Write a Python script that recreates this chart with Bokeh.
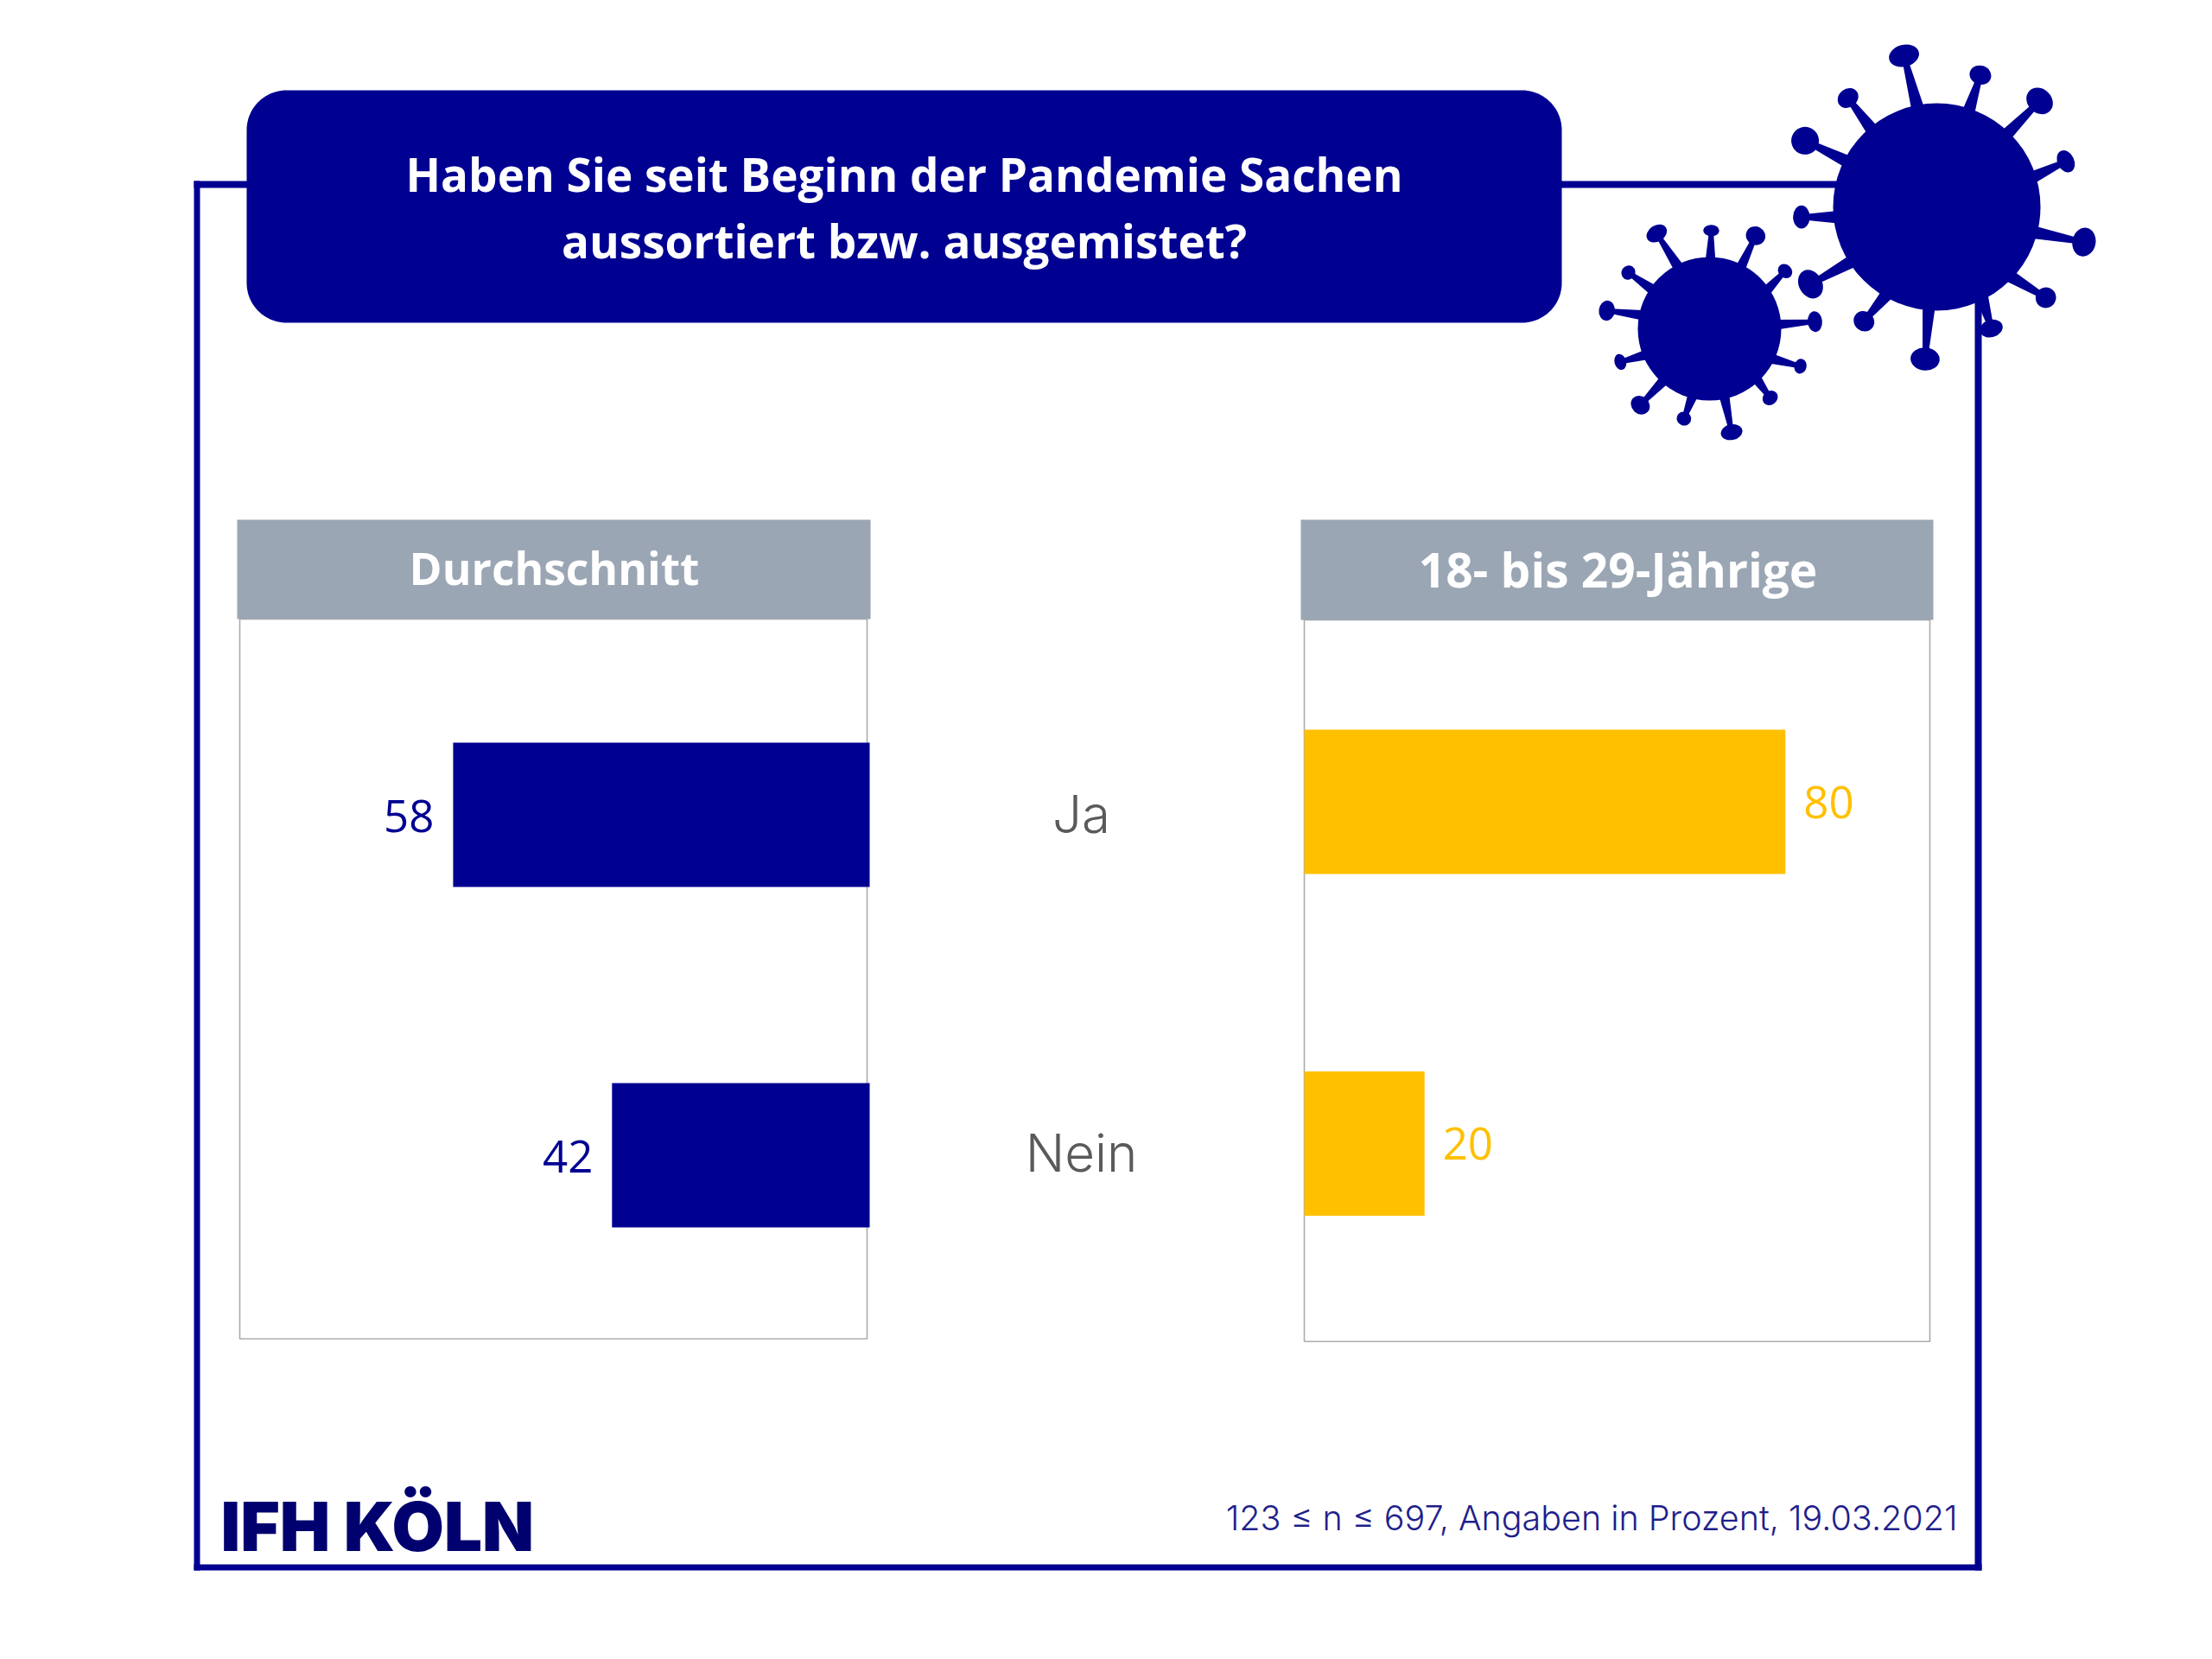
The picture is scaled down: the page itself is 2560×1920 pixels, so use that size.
import numpy as np
from bokeh.plotting import figure
from bokeh.models import Range1d
from bokeh.core.properties import value
from bokeh.embed import file_html
from bokeh.resources import INLINE

# ---- chart data ----
categories = ["Ja", "Nein"]
durchschnitt_labels = ["58", "42"]
# The reference's "58" bar is drawn longer than its label: this is its length on the "42" bar's scale
durchschnitt_drawn = [67.9, 42]
juengere_values = [80, 20]
panel_titles = ["Durchschnitt", "18- bis 29-Jährige"]
title_lines = ["Haben Sie seit Beginn der Pandemie Sachen", "aussortiert bzw. ausgemistet?"]
footer = "123 ≤ n ≤ 697, Angaben in Prozent, 19.03.2021"
logo = "IFH KÖLN"

# ---- style ----
NAVY = "#000091"
YELLOW = "#FFC000"
GREY = "#9BA6B4"
PANEL_LINE = "#ABABAB"
W, H = 2544, 1904
OFF = 1
SANS = value("Open Sans")
LIGHT = value("Inter Light")
LOGO_FONT = value("Inter Black")

p = figure(width=W, height=H, x_range=(OFF, OFF + W), y_range=(OFF + H, OFF),
           output_backend="svg", toolbar_location=None, min_border=0)
p.axis.visible = False
p.grid.visible = False
p.outline_line_color = None
p.background_fill_color = "white"

# scales of the two panels (px per percentage point, zero baseline in page px)
LEFT_ZERO, LEFT_SCALE = 1007, 7.1
RIGHT_ZERO, RIGHT_SCALE = 1510, 6.96
p.extra_x_ranges = {
    "durch": Range1d((LEFT_ZERO - OFF) / LEFT_SCALE, (LEFT_ZERO - OFF - W) / LEFT_SCALE),
    "jung": Range1d((OFF - RIGHT_ZERO) / RIGHT_SCALE, (OFF + W - RIGHT_ZERO) / RIGHT_SCALE),
}


def rect(l, r, t, b, color):
    p.quad(left=l, right=r, top=t, bottom=b, fill_color=color, line_color=None)


# ---- frame ----
rect(225, 232, 210, 1818, NAVY)
rect(225, 290, 210, 218, NAVY)
rect(1800, 2160, 210, 218, NAVY)
rect(2286, 2294, 350, 1818, NAVY)
rect(225, 2294, 1811, 1818, NAVY)

# ---- title box ----
bl, br, bt, bb, rad = 286, 1808, 105, 374, 46
ang = np.linspace(0, np.pi / 2, 24)
bx = np.concatenate([br - rad + rad * np.sin(ang), br - rad + rad * np.cos(ang),
                     bl + rad - rad * np.sin(ang), bl + rad - rad * np.cos(ang)])
by = np.concatenate([bt + rad - rad * np.cos(ang), bb - rad + rad * np.sin(ang),
                     bb - rad + rad * np.cos(ang), bt + rad - rad * np.sin(ang)])
p.patch(bx, by, fill_color=NAVY, line_color=None)
p.text(x=[1047, 1047], y=[202, 279], text=title_lines, text_color="white", text_font=SANS,
       text_font_style="bold", text_font_size="53px", text_align="center", text_baseline="middle")


# ---- virus decoration ----
def virus(cx, cy, r, spikes, w0, w1):
    for hx, hy, rx, ry, bx_, by_ in spikes:
        hx, rx, bx_ = 1800 + hx / 2.376, rx / 2.376, 1800 + bx_ / 2.376
        hy, ry, by_ = 30 + hy / 3, ry / 3, 30 + by_ / 3
        dx, dy = hx - bx_, hy - by_
        ln = np.hypot(dx, dy)
        ux, uy = dx / ln, dy / ln
        nx, ny = -uy, ux
        sx, sy = bx_ - ux * 6, by_ - uy * 6
        p.patch([sx + nx * w0, hx + nx * w1, hx - nx * w1, sx - nx * w0],
                [sy + ny * w0, hy + ny * w1, hy - ny * w1, sy - ny * w0],
                fill_color=NAVY, line_color=None)
        long_axis, short_axis = max(rx, ry), min(rx, ry)
        # long axis across the spike; screen y points down, Bokeh angle is counter-clockwise on screen
        a = np.arctan2(-ny, nx)
        p.ellipse(x=[hx], y=[hy], width=[2 * long_axis], height=[2 * short_axis], angle=[a],
                  fill_color=NAVY, line_color=None)
    p.ellipse(x=[cx], y=[cy], width=[2 * r], height=[2 * r], fill_color=NAVY, line_color=None)


big = [(960, 105, 42, 38, 995, 275), (1170, 172, 30, 33, 1140, 290), (1333, 262, 33, 50, 1245, 375),
       (1405, 472, 23, 40, 1318, 525), (1455, 752, 32, 50, 1325, 720), (1350, 945, 28, 36, 1258, 875),
       (1200, 1052, 32, 30, 1178, 960), (1018, 1158, 40, 40, 1028, 985), (850, 1027, 27, 37, 905, 945),
       (703, 898, 32, 52, 808, 825), (678, 665, 23, 40, 770, 665), (688, 400, 38, 48, 800, 470),
       (806, 252, 30, 32, 865, 350)]
small = [(280, 722, 30, 28, 330, 820), (430, 712, 22, 20, 428, 805), (552, 730, 27, 32, 515, 830),
         (633, 853, 18, 27, 590, 910), (715, 1028, 20, 36, 615, 1038), (675, 1183, 17, 26, 605, 1160),
         (592, 1293, 22, 24, 562, 1240), (486, 1412, 30, 27, 468, 1300), (355, 1365, 20, 24, 375, 1298),
         (235, 1318, 24, 35, 290, 1245), (180, 1168, 16, 28, 240, 1147), (143, 990, 22, 35, 235, 1005),
         (202, 858, 20, 24, 255, 905)]
virus(2242, 240, 120, big, 7.5, 3)
virus(1979, 381, 83, small, 6, 2.5)

# ---- panels ----
for l, r, t, b in [(278, 1004, 717, 1550), (1510, 2234, 718, 1553)]:
    p.line([l, l, r, r, l], [t, b, b, t, t], line_color=PANEL_LINE, line_width=1.6)
rect(275, 1008, 602, 717, GREY)
rect(1506, 2238, 602, 718, GREY)
p.text(x=[642], y=[657], text=panel_titles[:1], text_color="white", text_font=SANS,
       text_font_style="bold", text_font_size="51.5px", text_align="center", text_baseline="middle")
p.text(x=[1873], y=[659], text=panel_titles[1:], text_color="white", text_font=SANS,
       text_font_style="bold", text_font_size="55px", text_align="center", text_baseline="middle")

# ---- bars ----
left_y = [943.5, 1337.5]
right_y = [928.5, 1324]
BAR_H = 167
p.hbar(y=left_y, left=0, right=durchschnitt_drawn, height=BAR_H, x_range_name="durch",
       fill_color=NAVY, line_color=None)
p.hbar(y=right_y, left=0, right=juengere_values, height=BAR_H, x_range_name="jung",
       fill_color=YELLOW, line_color=None)
p.text(x=durchschnitt_drawn, y=[945, 1339], text=durchschnitt_labels, x_range_name="durch", x_offset=-22,
       text_color=NAVY, text_font=SANS, text_font_size="51px", text_align="right", text_baseline="middle")
p.text(x=juengere_values, y=[929, 1324], text=[str(v) for v in juengere_values], x_range_name="jung", x_offset=21,
       text_color=YELLOW, text_font=SANS, text_font_size="51px", text_align="left", text_baseline="middle")

# ---- category labels ----
p.text(x=[1252, 1252], y=[942, 1334], text=categories, text_color="#5A5A5A", text_font=LIGHT,
       text_font_size="60px", text_align="center", text_baseline="middle")

# ---- footer ----
p.text(x=[2266], y=[1757], text=[footer], text_color="#1F1F8C", text_font=LIGHT, text_font_size="39.5px",
       text_align="right", text_baseline="middle")
p.text(x=[256], y=[1767], text=[logo], text_color="#00006E", text_font=LOGO_FONT, text_font_style="bold",
       text_font_size="78px", text_align="left", text_baseline="middle")

open("out.html", "w").write(file_html(p, INLINE))
